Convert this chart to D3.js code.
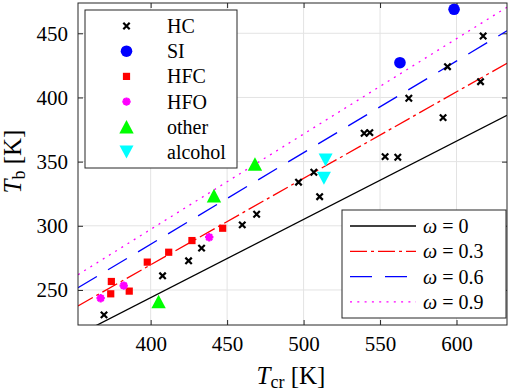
<!DOCTYPE html>
<html>
<head>
<meta charset="utf-8">
<script src="https://cdn.jsdelivr.net/npm/d3@7"></script>
<style>
  body { margin: 0; background: #fff; }
  svg text { font-family: "Liberation Serif", "DejaVu Serif", serif; fill: #000; }
</style>
</head>
<body>
<div id="chart"></div>
<script>
// data: [Tcr, Tb]
var hcData = [[369.5,230.6],[407.8,261],[424.8,272.7],[433.3,282.6],[459.9,300.7],[469.3,309],
  [496.7,334],[506.7,341.7],[510.5,322.7],[539.6,372.1],[543.3,372.6],[553.3,353.9],
  [561.6,353.4],[568.8,399.4],[591.2,384.3],[594.1,424],[615.7,412.3],[617.4,447.9]];
var siData = [[563,427.1],[598.4,468.7]];
var hfcData = [[374.3,256.6],[373.9,247],[386,249.1],[397.8,271.7],[411.8,279.4],[427,288.5],[447.1,298.1]];
var hfoData = [[367.3,243.6],[382.4,253.4],[438.3,291.1]];
var otherData = [[405.2,241],[441.4,323.5],[468.2,348.2]];
var alcoholData = [[514.4,351.3],[513.3,337.1]];

// Tb / Tcr ratio of each reference line
var omegas = ["0", "0.3", "0.6", "0.9"];
var omegaRatio = [0.61, 0.674, 0.714, 0.743];

var xTicks = [400, 450, 500, 550, 600];
var yTicks = [250, 300, 350, 400, 450];

var margin = {top: 3, right: 3, bottom: 67, left: 78},
    width = 510 - margin.left - margin.right,
    height = 392 - margin.top - margin.bottom;

var svg = d3.select("#chart").append("svg")
  .attr("width", 510)
  .attr("height", 392);

var chartArea = svg.append("g")
  .attr("transform", "translate(" + margin.left + "," + margin.top + ")");

var x = d3.scaleLinear().domain([352.5, 633]).range([0, width]);
var y = d3.scaleLinear().domain([222.7, 473.6]).range([height, 0]);

// grid
chartArea.selectAll(".gx").data(xTicks).enter().append("line")
  .attr("x1", d => x(d)).attr("x2", d => x(d))
  .attr("y1", 0).attr("y2", height)
  .attr("stroke", "#e3e3e3").attr("stroke-width", 1);
chartArea.selectAll(".gy").data(yTicks).enter().append("line")
  .attr("y1", d => y(d)).attr("y2", d => y(d))
  .attr("x1", 0).attr("x2", width)
  .attr("stroke", "#e3e3e3").attr("stroke-width", 1);

// axes (ticks point inward, on all four sides)
var axisColor = "#262626";
function styleAxis(g) {
  g.attr("font-family", null);
  g.select(".domain").remove();
  g.selectAll(".tick line").attr("stroke", axisColor);
  g.selectAll(".tick text").style("font-size", "21px").attr("fill", "#000");
}
chartArea.append("g").attr("transform", "translate(0," + height + ")")
  .call(d3.axisBottom(x).tickValues(xTicks).tickSizeInner(-5).tickPadding(11))
  .call(styleAxis);
chartArea.append("g")
  .call(d3.axisTop(x).tickValues(xTicks).tickSizeInner(-5).tickFormat(""))
  .call(styleAxis);
chartArea.append("g")
  .call(d3.axisLeft(y).tickValues(yTicks).tickSizeInner(-5).tickPadding(10))
  .call(styleAxis);
chartArea.append("g").attr("transform", "translate(" + width + ",0)")
  .call(d3.axisRight(y).tickValues(yTicks).tickSizeInner(-5).tickFormat(""))
  .call(styleAxis);

// clip for lines
svg.append("clipPath").attr("id", "clip").append("rect")
  .attr("width", width).attr("height", height);

var lineColors = ["#000000", "#ff0000", "#0000ff", "#ff00ff"];
var lineDash = [null, "17,4,3,4", "22,13", "2,5.3"];

var lineGroup = chartArea.append("g").attr("clip-path", "url(#clip)");
var xEnds = x.domain();
omegaRatio.forEach(function(k, i) {
  lineGroup.append("line")
    .attr("x1", x(xEnds[0])).attr("y1", y(k * xEnds[0]))
    .attr("x2", x(xEnds[1])).attr("y2", y(k * xEnds[1]))
    .attr("stroke", lineColors[i])
    .attr("stroke-width", 1.3)
    .attr("stroke-dasharray", lineDash[i]);
});

// marker drawing helpers
function drawCross(g, cx, cy) {
  var s = 3.2;
  g.append("path")
    .attr("d", "M" + (cx - s) + "," + (cy - s) + "L" + (cx + s) + "," + (cy + s) +
               "M" + (cx - s) + "," + (cy + s) + "L" + (cx + s) + "," + (cy - s))
    .attr("stroke", "#000").attr("stroke-width", 2.2).attr("fill", "none");
}
function drawCircle(g, cx, cy) {
  g.append("circle").attr("cx", cx).attr("cy", cy).attr("r", 5.8).attr("fill", "#0000ff");
}
function drawSquare(g, cx, cy) {
  g.append("rect").attr("x", cx - 3.6).attr("y", cy - 3.6)
    .attr("width", 7.2).attr("height", 7.2).attr("fill", "#ff0000");
}
function drawStar(g, cx, cy) {
  var s = 4.2;
  var d = "";
  [0, 45, 90, 135].forEach(function(a) {
    var r = a * Math.PI / 180;
    d += "M" + (cx - s * Math.cos(r)) + "," + (cy - s * Math.sin(r)) +
         "L" + (cx + s * Math.cos(r)) + "," + (cy + s * Math.sin(r));
  });
  g.append("circle").attr("cx", cx).attr("cy", cy).attr("r", 3.4).attr("fill", "#ff00ff");
  g.append("path").attr("d", d).attr("stroke", "#ff00ff").attr("stroke-width", 2.2);
}
function drawUp(g, cx, cy) {
  var w = 7.2, h = 6.8;
  g.append("path")
    .attr("d", "M" + cx + "," + (cy - h) + "L" + (cx + w) + "," + (cy + h) + "L" + (cx - w) + "," + (cy + h) + "Z")
    .attr("fill", "#00ff00");
}
function drawDown(g, cx, cy) {
  var w = 7, h = 6.5;
  g.append("path")
    .attr("d", "M" + cx + "," + (cy + h) + "L" + (cx + w) + "," + (cy - h) + "L" + (cx - w) + "," + (cy - h) + "Z")
    .attr("fill", "#00ffff");
}

var series = [
  {name: "HC", data: hcData, draw: drawCross},
  {name: "SI", data: siData, draw: drawCircle},
  {name: "HFC", data: hfcData, draw: drawSquare},
  {name: "HFO", data: hfoData, draw: drawStar},
  {name: "other", data: otherData, draw: drawUp},
  {name: "alcohol", data: alcoholData, draw: drawDown}
];

var pointGroup = chartArea.append("g");
series.forEach(function(s) {
  s.data.forEach(function(d) { s.draw(pointGroup, x(d[0]), y(d[1])); });
});

// frame
chartArea.append("rect")
  .attr("width", width).attr("height", height)
  .attr("fill", "none").attr("stroke", axisColor).attr("stroke-width", 1);

// legend for compounds
var leg1 = svg.append("g").attr("transform", "translate(85,10)");
leg1.append("rect").attr("width", 152).attr("height", 158)
  .attr("fill", "#fff").attr("stroke", axisColor).attr("stroke-width", 1);
series.forEach(function(s, i) {
  var cy = 16 + i * 25.2;
  s.draw(leg1, 41.5, cy);
  leg1.append("text").attr("x", 82).attr("y", cy + 7)
    .style("font-size", "20px").text(s.name);
});

// legend for omega lines
var leg2 = svg.append("g").attr("transform", "translate(342,210)");
leg2.append("rect").attr("width", 164).attr("height", 108)
  .attr("fill", "#fff").attr("stroke", axisColor).attr("stroke-width", 1);
omegas.forEach(function(o, i) {
  var cy = 16 + i * 25.3;
  leg2.append("line").attr("x1", 8).attr("x2", 74)
    .attr("y1", cy).attr("y2", cy)
    .attr("stroke", lineColors[i]).attr("stroke-width", 1.3)
    .attr("stroke-dasharray", lineDash[i]);
  var t = leg2.append("text").attr("x", 81).attr("y", cy + 7).style("font-size", "20px");
  t.append("tspan").style("font-style", "italic").text("ω");
  t.append("tspan").text(" = " + o);
});

// axis labels
var xLabel = svg.append("text")
  .attr("x", 291).attr("y", 384)
  .attr("text-anchor", "middle").style("font-size", "25px");
xLabel.append("tspan").style("font-style", "italic").text("T");
xLabel.append("tspan").attr("dy", 4).style("font-size", "18px").text("cr");
xLabel.append("tspan").attr("dy", -4).text(" [K]");

var yLabel = svg.append("text")
  .attr("transform", "translate(21,161.5) rotate(-90)")
  .attr("text-anchor", "middle").style("font-size", "25px");
yLabel.append("tspan").style("font-style", "italic").text("T");
yLabel.append("tspan").attr("dy", 4).style("font-size", "18px").text("b");
yLabel.append("tspan").attr("dy", -4).text(" [K]");
</script>
</body>
</html>
